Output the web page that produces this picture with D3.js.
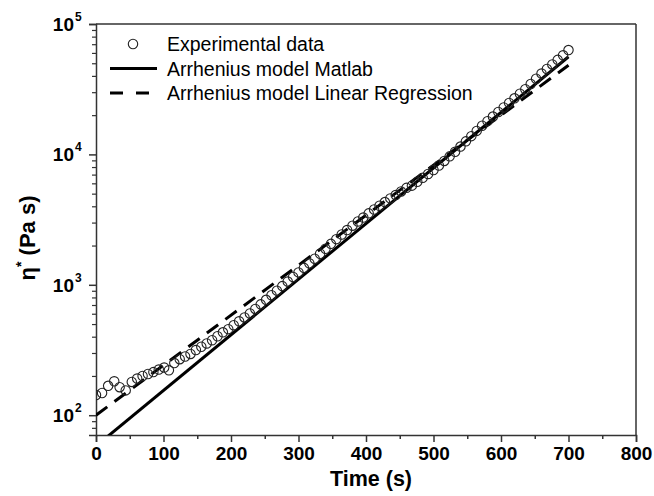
<!DOCTYPE html>
<html>
<head>
<meta charset="utf-8">
<script src="https://cdn.jsdelivr.net/npm/d3@7/dist/d3.min.js"></script>
<style>
  html, body { margin: 0; padding: 0; background: #fff; }
  svg { display: block; }
  text { font-family: "Liberation Sans", Arial, sans-serif; fill: #000; }
</style>
</head>
<body>
<svg id="chart" width="654" height="496"></svg>
<script>
// ---- Data ----
const expTime = [0, 9, 18, 27, 35, 44, 53, 61, 69, 77, 85, 93, 101, 108, 116, 124, 132, 140, 148, 156,
  164, 172, 180, 188, 196, 204, 212, 220, 228, 236, 244, 252, 260, 268, 276, 284, 292, 300, 308, 316,
  324, 332, 340, 348, 356, 364, 372, 380, 388, 396, 404, 412, 420, 428, 436, 444, 452, 460, 468, 476,
  484, 492, 500, 508, 516, 524, 532, 540, 548, 556, 564, 572, 580, 588, 596, 604, 612, 620, 628, 636,
  644, 652, 660, 668, 676, 684, 692, 700];
const expEta = [143, 148, 168, 182, 164, 155, 180, 191, 200, 207, 214, 224, 232, 221, 251, 269, 282, 295, 316, 335,
  355, 376, 403, 432, 457, 490, 525, 562, 603, 653, 708, 767, 832, 902, 977, 1059, 1148, 1245, 1349, 1462,
  1585, 1730, 1890, 2060, 2240, 2430, 2630, 2840, 3060, 3280, 3530, 3780, 4040, 4310, 4600, 4880, 5200, 5540, 5760, 6170,
  6610, 7080, 7590, 8220, 8910, 9660, 10470, 11480, 12590, 13800, 15140, 16600, 17990, 19500, 21140, 22910, 24830, 26920, 29170, 31620,
  34670, 38020, 41690, 45190, 48980, 53090, 57540, 63100];

const matlabTime = [0, 700];
const matlabEta  = [58, 56100];
const linregTime = [0, 700];
const linregEta  = [100, 48300];

const xTicks = [0, 100, 200, 300, 400, 500, 600, 700, 800];
const xMinorTicks = [50, 150, 250, 350, 450, 550, 650, 750];
const yDecades = [100, 1000, 10000, 100000];
const yExponents = ["2", "3", "4", "5"];
const yMinorTicks = [80, 90, 200, 300, 400, 500, 600, 700, 800, 900,
  2000, 3000, 4000, 5000, 6000, 7000, 8000, 9000,
  20000, 30000, 40000, 50000, 60000, 70000, 80000, 90000];

const legendLabels = ["Experimental data", "Arrhenius model Matlab", "Arrhenius model Linear Regression"];

// ---- Layout ----
const svg = d3.select("#chart");
const L = 96, R = 636, T = 24, B = 435;
const x = d3.scaleLinear().domain([0, 800]).range([L, R]);
const y = d3.scaleLog().domain([70.5, 100000]).range([B, T]);
const axisColor = "#333";

svg.append("defs").append("clipPath").attr("id", "clip")
  .append("rect").attr("x", L).attr("y", T).attr("width", R - L).attr("height", B - T);

// Frame (top and right)
svg.append("line").attr("x1", L).attr("x2", R).attr("y1", T).attr("y2", T)
  .attr("stroke", axisColor).attr("stroke-width", 1.5);
svg.append("line").attr("x1", R).attr("x2", R).attr("y1", T).attr("y2", B)
  .attr("stroke", axisColor).attr("stroke-width", 1.5);

// X axis
const xAxis = d3.axisBottom(x).tickValues(xTicks).tickSize(7).tickPadding(5).tickFormat(d3.format("d"));
const gx = svg.append("g").attr("transform", `translate(0,${B})`).call(xAxis);
gx.select(".domain").attr("stroke", axisColor).attr("stroke-width", 1.5);
gx.selectAll(".tick line").attr("stroke", axisColor).attr("stroke-width", 1.5);
gx.selectAll(".tick text").attr("font-size", 19).attr("font-weight", "bold")
  .attr("font-family", "Liberation Sans, Arial, sans-serif").attr("fill", "#000");
const gxm = svg.append("g").attr("transform", `translate(0,${B})`)
  .call(d3.axisBottom(x).tickValues(xMinorTicks).tickSize(4).tickFormat(""));
gxm.select(".domain").remove();
gxm.selectAll(".tick line").attr("stroke", axisColor).attr("stroke-width", 1.5);

// Y axis
const gy = svg.append("g").attr("transform", `translate(${L},0)`)
  .call(d3.axisLeft(y).tickValues(yDecades).tickSize(7).tickFormat(""));
gy.select(".domain").attr("stroke", axisColor).attr("stroke-width", 1.5);
gy.selectAll(".tick line").attr("stroke", axisColor).attr("stroke-width", 1.5);
const gym = svg.append("g").attr("transform", `translate(${L},0)`)
  .call(d3.axisLeft(y).tickValues(yMinorTicks).tickSize(4).tickFormat(""));
gym.select(".domain").remove();
gym.selectAll(".tick line").attr("stroke", axisColor).attr("stroke-width", 1.2);

// Y tick labels with superscript exponent
yDecades.forEach((d, i) => {
  svg.append("text")
    .attr("x", L - 22).attr("y", y(d) + 7)
    .attr("text-anchor", "end")
    .attr("font-size", 19).attr("font-weight", "bold")
    .text("10");
  svg.append("text")
    .attr("x", L - 21).attr("y", y(d) - 3)
    .attr("text-anchor", "start")
    .attr("font-size", 12).attr("font-weight", "bold")
    .text(yExponents[i]);
});

// Axis titles
svg.append("text").attr("x", (L + R) / 2 + 5).attr("y", 486)
  .attr("text-anchor", "middle").attr("font-size", 21.5).attr("font-weight", "bold")
  .text("Time (s)");
const yt = svg.append("text")
  .attr("transform", `translate(35,238) rotate(-90)`)
  .attr("text-anchor", "middle").attr("font-size", 22).attr("font-weight", "bold");
yt.append("tspan").text("η");
yt.append("tspan").attr("font-size", 14).attr("dy", -9).text("*");
yt.append("tspan").attr("dy", 9).text(" (Pa s)");

// Plot content
const plot = svg.append("g").attr("clip-path", "url(#clip)");
const lineGen = d3.line().x(d => x(d[0])).y(d => y(d[1]));

plot.append("path").datum(matlabTime.map((t, i) => [t, matlabEta[i]]))
  .attr("d", lineGen).attr("fill", "none").attr("stroke", "#000").attr("stroke-width", 3);
plot.append("path").datum(linregTime.map((t, i) => [t, linregEta[i]]))
  .attr("d", lineGen).attr("fill", "none").attr("stroke", "#000").attr("stroke-width", 3)
  .attr("stroke-dasharray", "14,9");

plot.selectAll("circle.exp").data(expTime.map((t, i) => [t, expEta[i]]))
  .enter().append("circle").attr("class", "exp")
  .attr("cx", d => x(d[0])).attr("cy", d => y(d[1])).attr("r", 4.7)
  .attr("fill", "none").attr("stroke", "#222").attr("stroke-width", 1.1);

// Legend
const lg = svg.append("g");
const rowY = [44, 68.5, 93];
lg.append("circle").attr("cx", 133).attr("cy", rowY[0]).attr("r", 4.7)
  .attr("fill", "none").attr("stroke", "#222").attr("stroke-width", 1.1);
lg.append("line").attr("x1", 110).attr("x2", 157).attr("y1", rowY[1]).attr("y2", rowY[1])
  .attr("stroke", "#000").attr("stroke-width", 3);
lg.append("line").attr("x1", 110).attr("x2", 157).attr("y1", rowY[2]).attr("y2", rowY[2])
  .attr("stroke", "#000").attr("stroke-width", 3).attr("stroke-dasharray", "13,13");
legendLabels.forEach((s, i) => {
  lg.append("text").attr("x", 167).attr("y", rowY[i] + 7).attr("font-size", 19.5).text(s);
});
</script>
</body>
</html>
